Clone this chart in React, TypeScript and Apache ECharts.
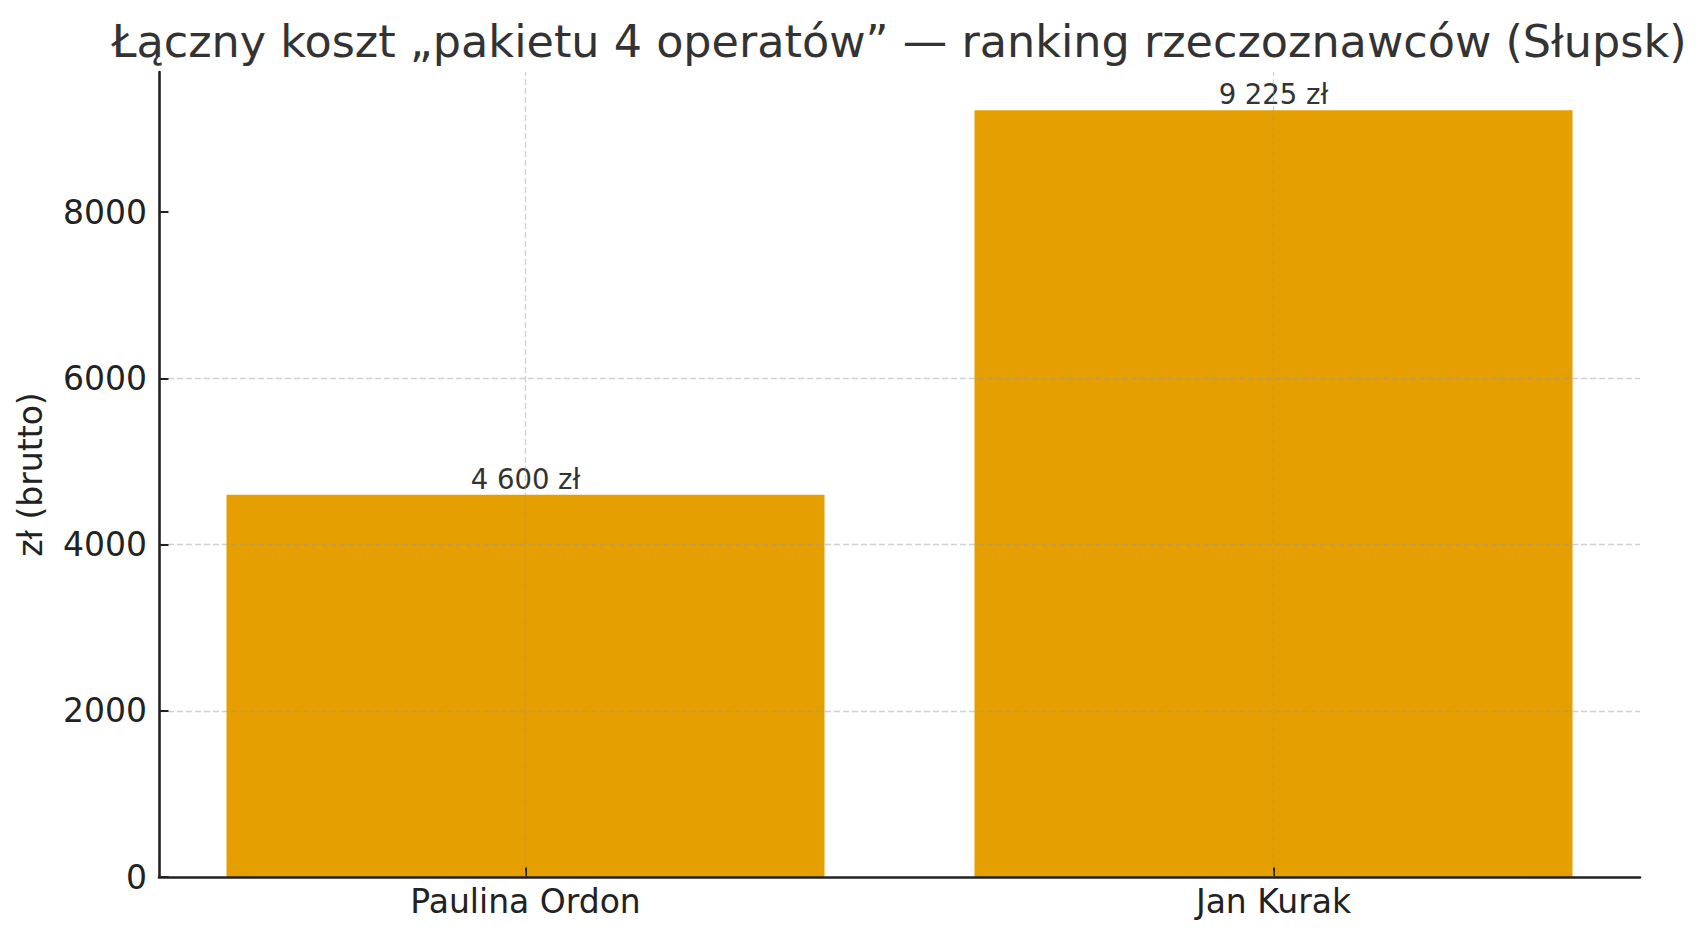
import React, { useEffect, useRef } from "react";
import * as echarts from "echarts";

const titleText = "Łączny koszt „pakietu 4 operatów” — ranking rzeczoznawców (Słupsk)";
const yAxisName = "zł (brutto)";
const categories = ["Paulina Ordon", "Jan Kurak"];
const values = [4600, 9225];
const yTicks = [0, 2000, 4000, 6000, 8000];
const yMax = 9686;
const xMin = -0.49;
const xMax = 1.49;

const FONT = "DejaVu Sans";

function formatZl(v: number): string {
  return String(v).replace(/\B(?=(\d{3})+(?!\d))/g, " ") + " zł";
}

export default function App() {
  const ref = useRef<HTMLDivElement>(null);
  useEffect(() => {
    if (!ref.current) return;
    const chart = echarts.init(ref.current, undefined, { renderer: "svg" });
    const gridColor = "rgba(150,150,150,0.45)";
    const catIdx = categories.map((_, i) => i);
    chart.setOption({
      animation: false,
      backgroundColor: "#ffffff",
      textStyle: { fontFamily: FONT },
      grid: { left: 159, right: 66, top: 72, bottom: 63, containLabel: false },
      graphic: [
        {
          type: "text",
          x: 899,
          y: 41,
          style: {
            text: titleText,
            fontFamily: FONT,
            fontSize: 44.5,
            fill: "#333333",
            textAlign: "center",
            textVerticalAlign: "middle",
          },
        },
      ],
      xAxis: {
        type: "value",
        min: xMin,
        max: xMax,
        z: 3,
        axisLine: { show: true, onZero: false, lineStyle: { color: "#222222", width: 2.6 } },
        axisTick: {
          show: true,
          inside: true,
          length: 9.5,
          customValues: catIdx,
          lineStyle: { color: "#222222", width: 2 },
        },
        axisLabel: {
          color: "#222222",
          fontFamily: FONT,
          fontSize: 33,
          margin: 8,
          customValues: catIdx,
          formatter: (v: number) => categories[Math.round(v)] ?? "",
        },
        splitLine: { show: false },
      },
      yAxis: {
        type: "value",
        min: 0,
        max: yMax,
        interval: 2000,
        z: 3,
        name: yAxisName,
        nameLocation: "middle",
        nameGap: 112,
        nameTextStyle: { color: "#222222", fontFamily: FONT, fontSize: 33 },
        axisLine: { show: true, onZero: false, lineStyle: { color: "#222222", width: 2.6 } },
        axisTick: {
          show: true,
          inside: true,
          length: 9.5,
          customValues: yTicks,
          lineStyle: { color: "#222222", width: 2 },
        },
        axisLabel: {
          color: "#222222",
          fontFamily: FONT,
          fontSize: 33,
          margin: 12,
          customValues: yTicks,
          formatter: (v: number) => String(v),
        },
        splitLine: {
          show: true,
          showMinLine: false,
          showMaxLine: false,
          lineStyle: { color: gridColor, type: [6, 3], width: 1.3 },
        },
      },
      series: [
        {
          type: "bar",
          data: values.map((v, i) => [i, v]),
          barWidth: 598,
          itemStyle: { color: "#E69F00" },
          label: {
            show: true,
            position: "top",
            distance: 2,
            color: "#333333",
            fontFamily: FONT,
            fontSize: 27.5,
            formatter: (p: any) => formatZl(p.value[1]),
          },
          markLine: {
            silent: true,
            symbol: "none",
            label: { show: false },
            lineStyle: { color: gridColor, type: [6, 3], width: 1.3 },
            data: catIdx.map((i) => ({ xAxis: i })),
          },
        },
      ],
    });
    return () => chart.dispose();
  }, []);
  return (
    <div
      ref={ref}
      style={{ position: "fixed", left: 0, top: 0, width: 1706, height: 940, background: "#fff" }}
    />
  );
}
